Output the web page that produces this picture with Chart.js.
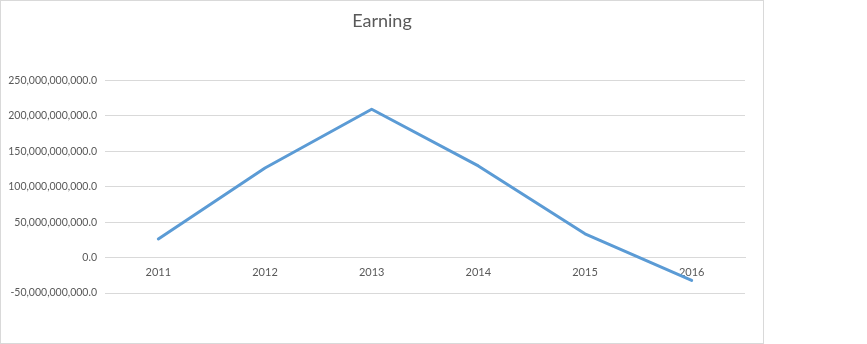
<!DOCTYPE html>
<html>
<head>
<meta charset="utf-8">
<script src="https://cdn.jsdelivr.net/npm/chart.js@4"></script>
<style>
  html, body { margin: 0; padding: 0; background: #fff; }
  #wrap {
    position: absolute; left: 0; top: 0;
    width: 762px; height: 342px;
    border: 1px solid #d9d9d9;
  }
</style>
</head>
<body>
<div id="wrap"><canvas id="earningChart" width="762" height="342"></canvas></div>
<script>
// Chart data
const years = ['2011', '2012', '2013', '2014', '2015', '2016'];
const earnings = [26.3e9, 126.5e9, 209.5e9, 129.5e9, 33.6e9, -32.2e9];
const yMin = -50e9;
const yMax = 250e9;
const yStep = 50e9;

const textColor = '#595959';
const gridColor = '#d9d9d9';
const fontFamily = 'Lato, "Open Sans", sans-serif';

document.addEventListener('DOMContentLoaded', function() {
  const ctx = document.getElementById('earningChart').getContext('2d');

  new Chart(ctx, {
    type: 'line',
    data: {
      labels: years,
      datasets: [{
        label: 'Earning',
        data: earnings,
        borderColor: '#5b9bd5',
        backgroundColor: '#5b9bd5',
        borderWidth: 3,
        borderJoinStyle: 'round',
        borderCapStyle: 'round',
        pointRadius: 0,
        tension: 0
      }]
    },
    options: {
      responsive: false,
      animation: false,
      layout: {
        padding: { left: 0, right: 0, top: 0, bottom: 50 }
      },
      plugins: {
        legend: { display: false },
        tooltip: { enabled: false },
        title: {
          display: true,
          text: 'Earning',
          color: textColor,
          font: { family: fontFamily, size: 18, weight: 'normal' },
          padding: { top: 9, bottom: 49 }
        }
      },
      scales: {
        x: {
          position: { y: 0 },
          offset: true,
          grid: { display: false, drawTicks: false },
          border: { display: true, color: gridColor, width: 1 },
          ticks: {
            color: textColor,
            padding: 8,
            maxRotation: 0,
            font: { family: fontFamily, size: 11 }
          }
        },
        y: {
          min: yMin,
          max: yMax,
          afterFit: function(scale) { scale.width = 104; },
          grid: { color: gridColor, drawTicks: false },
          border: { display: false },
          ticks: {
            stepSize: yStep,
            color: textColor,
            padding: 8,
            font: { family: fontFamily, size: 10.5 },
            callback: function(value) {
              return Number(value).toLocaleString('en-US', {
                minimumFractionDigits: 1,
                maximumFractionDigits: 1
              });
            }
          }
        },
        // empty right margin so the title stays centred on the frame
        yRight: {
          position: 'right',
          afterFit: function(scale) { scale.width = 18; },
          grid: { display: false, drawTicks: false },
          border: { display: false },
          ticks: { display: false }
        }
      }
    }
  });
});
</script>
</body>
</html>
